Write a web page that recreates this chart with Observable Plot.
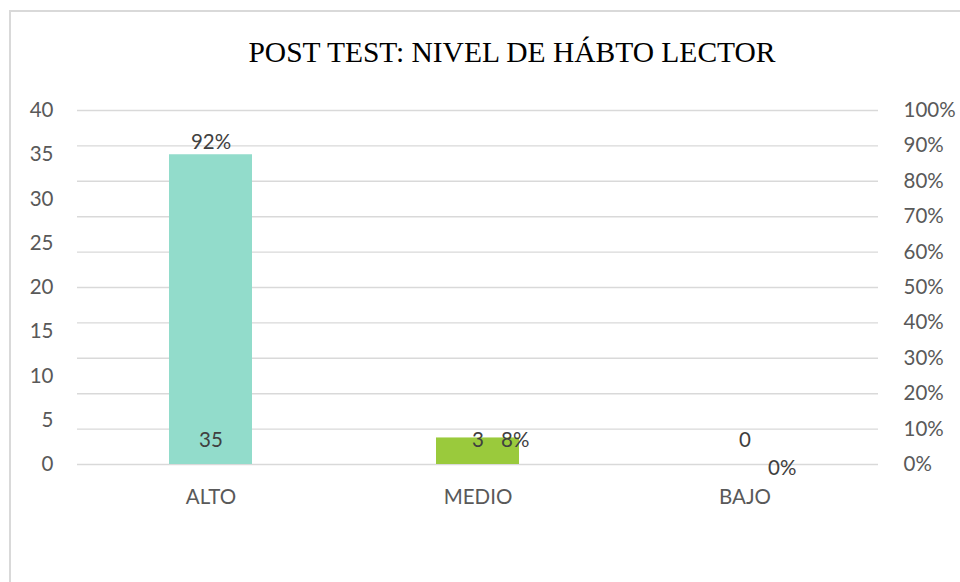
<!DOCTYPE html>
<html><head><meta charset="utf-8">
<script src="https://cdn.jsdelivr.net/npm/d3@7"></script>
<script src="https://cdn.jsdelivr.net/npm/@observablehq/plot@0.6"></script>
<style>
body{margin:0;background:#fff;}
#wrap{position:relative;width:960px;height:582px;overflow:hidden;background:#fff;}
#frame{position:absolute;left:9px;top:10px;width:960px;height:600px;border-top:2px solid #d9d9d9;border-left:2px solid #d9d9d9;pointer-events:none;}
#title{position:absolute;left:64px;right:0;top:35px;line-height:34px;text-align:center;font-family:"Liberation Serif","Times New Roman",serif;font-size:29.5px;color:#000;margin:0;font-weight:normal;white-space:nowrap;}
#chart{position:absolute;left:0;top:90px;}
</style></head>
<body><div id="wrap"><div id="frame"></div><h2 id="title">POST TEST: NIVEL DE HÁBTO LECTOR</h2><div id="chart"></div></div>
<script>
const categories = ["ALTO", "MEDIO", "BAJO"];
const counts = [35, 3, 0];
const percents = [92, 8, 0];
const leftTicks = [0, 5, 10, 15, 20, 25, 30, 35, 40];
const rightTicks = [0, 10, 20, 30, 40, 50, 60, 70, 80, 90, 100];
const barColors = ["#92dccb", "#9aca3c", "#5b9bd5"];

const yMax = 40;
const data = categories.map((c, i) => ({cat: c, count: counts[i], pct: percents[i], color: barColors[i]}));
const pctToY = p => p / 100 * yMax;

const chart = Plot.plot({
  width: 960,
  height: 492,
  marginTop: 20,
  marginBottom: 118,
  marginLeft: 77,
  marginRight: 82,
  style: {fontFamily: "Lato, sans-serif", fontSize: "20.5px", color: "#595959", background: "transparent"},
  x: {domain: categories, paddingInner: 0.69, paddingOuter: 0.345, label: null},
  y: {domain: [0, yMax], label: null},
  color: {type: "identity"},
  marks: [
    Plot.gridY(rightTicks.map(pctToY), {stroke: "#d9d9d9", strokeOpacity: 1, strokeWidth: 1.4}),
    Plot.barY(data, {x: "cat", y: "count", fill: "color"}),
    Plot.axisX({tickSize: 0, tickPadding: 25, fill: "#595959", fontSize: 20.5}),
    Plot.axisY({ticks: leftTicks, tickSize: 0, tickPadding: 24, fill: "#595959", fontSize: 20.5, tickFormat: d => String(d)}),
    Plot.axisY({anchor: "right", ticks: rightTicks.map(pctToY), tickSize: 0, tickPadding: 25, fill: "#595959", fontSize: 20.5,
      tickFormat: d => Math.round(d / yMax * 100) + "%"}),
    Plot.text(data, {x: "cat", y: 0, text: d => String(d.count), dy: -24, fill: "#404040", fontSize: 20.5}),
    Plot.text(data.slice(0, 1), {x: "cat", y: d => pctToY(d.pct), text: d => d.pct + "%", dy: 4, fill: "#404040", fontSize: 20.5}),
    Plot.text(data.slice(1), {x: "cat", y: d => pctToY(d.pct), text: d => d.pct + "%", dy: 4, dx: 23, textAnchor: "start", fill: "#404040", fontSize: 20.5})
  ]
});
document.getElementById("chart").appendChild(chart);
</script>
</body></html>
